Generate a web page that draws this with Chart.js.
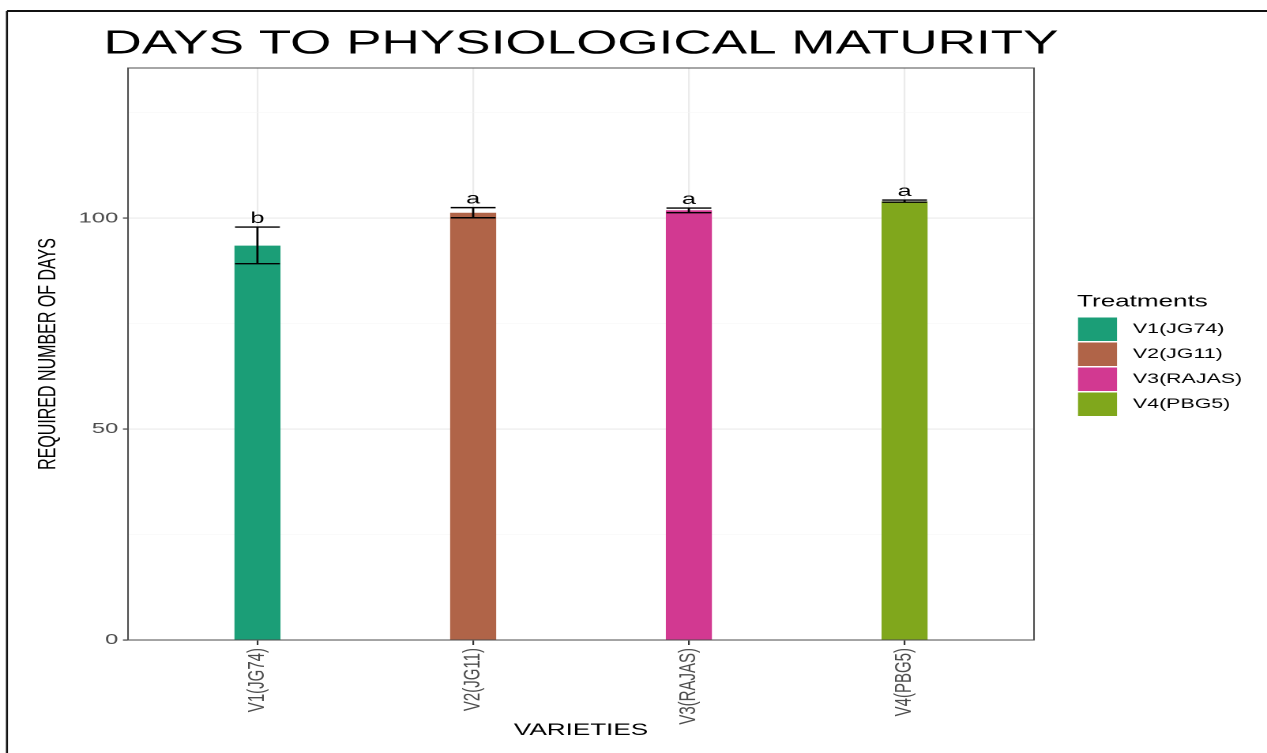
<!DOCTYPE html>
<html>
<head>
<meta charset="utf-8">
<script src="https://cdn.jsdelivr.net/npm/chart.js@4"></script>
<style>
  html, body { margin: 0; padding: 0; background: #fff; }
  #chart { width: 1267px; height: 753px; display: block; }
</style>
</head>
<body>
<!-- the source image is stretched sideways, so the canvas is drawn narrow and widened by css -->
<canvas id="chart" width="802" height="753" style="width:1267px;height:753px"></canvas>
<script>
const STRETCH = 1267 / 802;

// Data
const varieties = ['V1(JG74)', 'V2(JG11)', 'V3(RAJAS)', 'V4(PBG5)'];
const meanDays = [93.4, 101.2, 101.8, 103.9];
const errUpper = [97.9, 102.5, 102.4, 104.3];
const errLower = [89.2, 100.1, 101.3, 103.8];
const groupLetters = ['b', 'a', 'a', 'a'];
const barColors = ['#1B9E77', '#B06448', '#D23991', '#80A71C'];
const yMajorTicks = [0, 50, 100];
const yMinorTicks = [25, 75, 125];
const chartTitle = 'DAYS TO PHYSIOLOGICAL MATURITY';

Chart.defaults.font.family = "'Liberation Sans', Arial, sans-serif";

// title, error bars, group letters, panel border, legend and outer frame
const extras = {
    id: 'extras',
    beforeDraw(chart) {
        const ctx = chart.ctx;
        const a = chart.chartArea;
        ctx.save();
        ctx.fillStyle = '#fff';
        ctx.fillRect(0, 0, chart.width, chart.height);
        ctx.strokeStyle = '#111';
        ctx.lineWidth = 2;
        ctx.beginPath();
        ctx.moveTo(4.4, 11);
        ctx.lineTo(chart.width, 11);
        ctx.stroke();
        ctx.lineWidth = 1.3;
        ctx.beginPath();
        ctx.moveTo(4.4, 11);
        ctx.lineTo(4.4, chart.height);
        ctx.stroke();

        // title is wider than the panel, so it is drawn here instead of by the title plugin
        ctx.fillStyle = '#000';
        ctx.font = "33.6px 'Liberation Sans', Arial, sans-serif";
        ctx.textAlign = 'center';
        ctx.textBaseline = 'alphabetic';
        ctx.fillText(chartTitle, (a.left + a.right) / 2, 53.3);
        ctx.restore();
    },
    afterDatasetsDraw(chart) {
        const ctx = chart.ctx;
        const xs = chart.scales.x, ys = chart.scales.y;
        const a = chart.chartArea;
        ctx.save();
        // panel border
        ctx.strokeStyle = '#4d4d4d';
        ctx.lineWidth = 1;
        ctx.strokeRect(a.left, a.top, a.right - a.left, a.bottom - a.top);

        ctx.strokeStyle = '#000';
        ctx.lineWidth = 1.4;
        const half = 14.2;
        varieties.forEach((v, i) => {
            const x = xs.getPixelForValue(i + 1);
            const yTop = ys.getPixelForValue(errUpper[i]);
            const yBot = ys.getPixelForValue(errLower[i]);
            ctx.beginPath();
            ctx.moveTo(x, yTop); ctx.lineTo(x, yBot);
            ctx.moveTo(x - half, yTop); ctx.lineTo(x + half, yTop);
            ctx.moveTo(x - half, yBot); ctx.lineTo(x + half, yBot);
            ctx.stroke();

            ctx.fillStyle = '#000';
            ctx.font = "16px 'Liberation Sans', Arial, sans-serif";
            ctx.textAlign = 'center';
            ctx.textBaseline = 'alphabetic';
            ctx.fillText(groupLetters[i], x, yTop - 4);
        });

        // legend
        const lx = 1078 / STRETCH;
        ctx.fillStyle = '#000';
        ctx.textAlign = 'left';
        ctx.font = "16.5px 'Liberation Sans', Arial, sans-serif";
        ctx.fillText('Treatments', 1077 / STRETCH, 306.5);
        ctx.font = "13.5px 'Liberation Sans', Arial, sans-serif";
        ctx.textBaseline = 'middle';
        varieties.forEach((v, i) => {
            const top = 317.5 + i * 25;
            ctx.fillStyle = barColors[i];
            ctx.fillRect(lx, top, 39 / STRETCH, 23.5);
            ctx.fillStyle = '#000';
            ctx.fillText(v, 1133 / STRETCH, top + 12);
        });
        ctx.restore();
    }
};

new Chart(document.getElementById('chart'), {
    type: 'bar',
    data: {
        datasets: [{
            label: 'Treatments',
            data: meanDays.map((d, i) => ({ x: i + 1, y: d })),
            backgroundColor: barColors,
            borderWidth: 0,
            barThickness: 45 / STRETCH
        }]
    },
    options: {
        responsive: false,
        animation: false,
        devicePixelRatio: 2,
        layout: {
            padding: { left: 10, right: 802 - 1034 / STRETCH, top: 68, bottom: 0 }
        },
        plugins: {
            legend: { display: false },
            tooltip: { enabled: false },
            title: { display: false }
        },
        scales: {
            x: {
                type: 'linear',
                min: 0.4,
                max: 4.6,
                offset: false,
                afterBuildTicks: (axis) => {
                    axis.ticks = varieties.map((v, i) => ({ value: i + 1 }));
                },
                afterFit: (scale) => { scale.height = 113; },
                ticks: {
                    autoSkip: false,
                    minRotation: 90,
                    maxRotation: 90,
                    padding: 3,
                    color: '#4d4d4d',
                    font: { size: 15 },
                    callback: (value) => varieties[value - 1]
                },
                grid: {
                    offset: false,
                    color: '#ebebeb',
                    lineWidth: 1.1,
                    tickColor: '#333',
                    tickLength: 5
                },
                border: { display: false },
                title: {
                    display: true,
                    text: 'VARIETIES',
                    color: '#000',
                    font: { size: 16.5 },
                    padding: { top: 0, bottom: 12.6 }
                }
            },
            y: {
                min: 0,
                max: 135.6,
                afterBuildTicks: (axis) => {
                    axis.ticks = yMajorTicks.concat(yMinorTicks)
                        .sort((p, q) => p - q)
                        .map(v => ({ value: v }));
                },
                afterFit: (scale) => { scale.width = 128 / STRETCH - 10; },
                ticks: {
                    padding: 3,
                    color: '#4d4d4d',
                    font: { size: 15 },
                    callback: (value) => yMajorTicks.includes(value) ? value : ''
                },
                grid: {
                    color: (c) => yMajorTicks.includes(c.tick.value) ? '#ebebeb' : '#f5f5f5',
                    lineWidth: (c) => yMajorTicks.includes(c.tick.value) ? 1.1 : 0.6,
                    tickColor: (c) => yMajorTicks.includes(c.tick.value) ? '#333' : 'rgba(0,0,0,0)',
                    tickLength: 3.2
                },
                border: { display: false },
                title: {
                    display: true,
                    text: 'REQUIRED NUMBER OF DAYS',
                    color: '#000',
                    font: { size: 16 },
                    padding: { top: 11, bottom: 0 }
                }
            }
        }
    },
    plugins: [extras]
});
</script>
</body>
</html>
